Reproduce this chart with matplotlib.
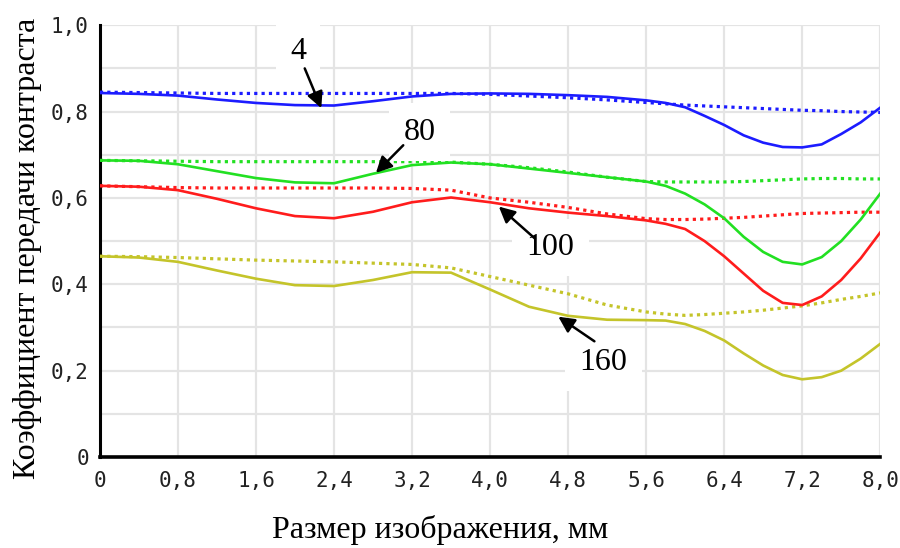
import numpy as np
from matplotlib import pyplot as plt

# image size, mm
x = [0.0, 0.4, 0.8, 1.2, 1.6, 2.0, 2.4, 2.8, 3.2, 3.6, 4.0, 4.4, 4.8, 5.2, 5.6,
     5.8, 6.0, 6.2, 6.4, 6.6, 6.8, 7.0, 7.2, 7.4, 7.6, 7.8, 8.0]

# solid = tangential, dotted = sagittal
mtf4_solid = [0.843, 0.841, 0.837, 0.828, 0.820, 0.815, 0.814, 0.824, 0.835, 0.841, 0.842, 0.841, 0.838, 0.834, 0.826,
              0.820, 0.810, 0.790, 0.769, 0.745, 0.728, 0.718, 0.717, 0.724, 0.748, 0.775, 0.809]
mtf4_dot = [0.845, 0.844, 0.843, 0.842, 0.842, 0.842, 0.842, 0.842, 0.842, 0.842, 0.840, 0.836, 0.832, 0.827, 0.821,
            0.818, 0.815, 0.813, 0.811, 0.809, 0.807, 0.805, 0.803, 0.802, 0.800, 0.799, 0.798]
mtf80_solid = [0.687, 0.686, 0.678, 0.662, 0.646, 0.636, 0.634, 0.656, 0.676, 0.682, 0.678, 0.668, 0.658, 0.648, 0.638,
               0.628, 0.610, 0.585, 0.553, 0.510, 0.475, 0.452, 0.446, 0.463, 0.500, 0.550, 0.610]
mtf80_dot = [0.687, 0.686, 0.685, 0.684, 0.684, 0.684, 0.684, 0.684, 0.684, 0.683, 0.678, 0.670, 0.660, 0.648, 0.638,
             0.637, 0.637, 0.637, 0.637, 0.638, 0.640, 0.642, 0.644, 0.645, 0.645, 0.644, 0.644]
mtf100_solid = [0.628, 0.626, 0.618, 0.598, 0.576, 0.558, 0.553, 0.568, 0.590, 0.601, 0.590, 0.576, 0.566, 0.558, 0.548,
                0.540, 0.528, 0.500, 0.465, 0.425, 0.385, 0.357, 0.352, 0.372, 0.410, 0.460, 0.520]
mtf100_dot = [0.628, 0.626, 0.624, 0.623, 0.623, 0.623, 0.623, 0.623, 0.622, 0.618, 0.600, 0.590, 0.578, 0.563, 0.552,
              0.550, 0.550, 0.551, 0.553, 0.555, 0.558, 0.561, 0.564, 0.565, 0.566, 0.567, 0.567]
mtf160_solid = [0.465, 0.462, 0.452, 0.432, 0.413, 0.398, 0.396, 0.410, 0.428, 0.427, 0.388, 0.348, 0.327, 0.318, 0.317,
                0.316, 0.308, 0.292, 0.270, 0.240, 0.212, 0.190, 0.180, 0.185, 0.200, 0.228, 0.262]
mtf160_dot = [0.465, 0.464, 0.462, 0.459, 0.456, 0.454, 0.452, 0.449, 0.446, 0.438, 0.418, 0.398, 0.378, 0.352, 0.336,
              0.331, 0.328, 0.330, 0.333, 0.336, 0.340, 0.345, 0.350, 0.357, 0.365, 0.372, 0.380]

xticks = [0, 0.8, 1.6, 2.4, 3.2, 4.0, 4.8, 5.6, 6.4, 7.2, 8.0]
xticklabels = ["0", "0,8", "1,6", "2,4", "3,2", "4,0", "4,8", "5,6", "6,4", "7,2", "8,0"]
yticks = [0, 0.2, 0.4, 0.6, 0.8, 1.0]
yticklabels = ["0", "0,2", "0,4", "0,6", "0,8", "1,0"]

# label, text position, arrow tail, arrow tip
notes = [("4", (2.03, 0.94), (2.10, 0.90), (2.27, 0.808)),
         ("80", (3.28, 0.752), (3.11, 0.722), (2.83, 0.658)),
         ("100", (4.62, 0.485), (4.46, 0.506), (4.09, 0.580)),
         ("160", (5.16, 0.22), (5.07, 0.268), (4.70, 0.325))]

fig = plt.figure(figsize=(9, 5.48), dpi=100)
ax = fig.add_axes([0.111, 0.166, 0.867, 0.788])

series = [(mtf4_solid, mtf4_dot, "#1c1cff"),
          (mtf80_solid, mtf80_dot, "#22e022"),
          (mtf100_solid, mtf100_dot, "#ff1c1c"),
          (mtf160_solid, mtf160_dot, "#c4c42a")]
for solid, dot, c in series:
    ax.plot(x, dot, color=c, lw=2.3, linestyle=(0, (1, 1.3)), zorder=3)
    ax.plot(x, solid, color=c, lw=1.9, zorder=4)

ax.set_xlim(0, 8.0)
ax.set_ylim(0, 1.0)
ax.set_xticks(xticks)
ax.set_xticklabels(xticklabels)
ax.set_yticks(yticks)
ax.set_yticklabels(yticklabels)
ax.set_yticks(np.arange(0.1, 1.0, 0.2), minor=True)
ax.tick_params(length=0, which="both")
ax.tick_params(axis="x", pad=10)
ax.tick_params(axis="y", pad=8)
for lab in ax.get_xticklabels() + ax.get_yticklabels():
    lab.set_fontfamily("DejaVu Sans Mono")
    lab.set_fontsize(15)
    lab.set_color("#222222")

ax.grid(True, which="both", color="#e4e4e4", lw=1.6, zorder=0)
ax.set_axisbelow(True)
for s in ["top", "right"]:
    ax.spines[s].set_visible(False)
ax.spines["left"].set_linewidth(2.2)
ax.spines["bottom"].set_linewidth(2.6)

for txt, pos, tail, tip in notes:
    ax.text(pos[0], pos[1], txt, fontsize=23, family="Liberation Serif",
            ha="center", va="center", zorder=6,
            bbox=dict(boxstyle="square,pad=0.45", fc="white", ec="none"))
    ax.annotate("", xy=tip, xytext=tail, zorder=7,
                arrowprops=dict(arrowstyle="-|>", color="black", lw=1.8,
                                mutation_scale=24, shrinkA=0, shrinkB=0))

fig.text(440 / 900, 1 - 530 / 548, "Размер изображения, мм", family="Liberation Serif",
         fontsize=23, ha="center", va="center")
fig.text(28 / 900, 1 - 248 / 548, "Коэффициент передачи контраста", family="Liberation Serif",
         fontsize=23, ha="center", va="center", rotation=90)

plt.savefig("out.png", dpi=100)
